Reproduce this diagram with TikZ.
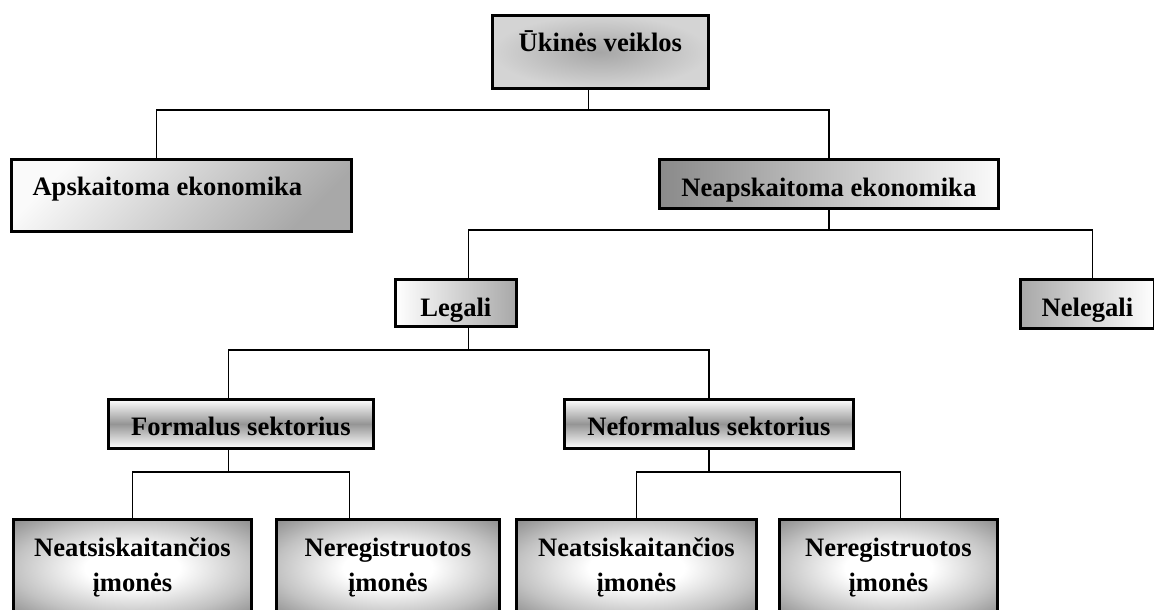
\documentclass[tikz,border=0pt]{standalone}
\usepackage{fontspec}
\setmainfont{Liberation Serif}
\usetikzlibrary{calc}
\definecolor{gtopin}{HTML}{A6A6A6}
\definecolor{gtopout}{HTML}{D4D4D4}
\definecolor{gdark}{HTML}{8A8A8A}
\definecolor{gmid}{HTML}{A8A8A8}
\definecolor{gband}{HTML}{959595}
\definecolor{glight}{HTML}{FAFAFA}
\definecolor{gcorner}{HTML}{767676}
\definecolor{gedge}{HTML}{C2C2C2}
\pgfdeclareradialshading{cornerfade}{\pgfpoint{0bp}{0bp}}{%
  color(0bp)=(white); color(10bp)=(white); color(25bp)=(gedge); color(40bp)=(gcorner); color(50bp)=(gcorner)}
\begin{document}
\begin{tikzpicture}[x=1pt,y=-1pt,
  box/.style={draw=black, line width=2.8pt, inner sep=0pt, anchor=north west,
    font=\fontsize{26.6}{35}\selectfont\bfseries},
  conn/.style={draw=black, line width=1.7pt},
  txa/.style={text height=10pt, text depth=10pt},
  txb/.style={text height=25pt, text depth=0pt},
  txc/.style={text height=27pt, text depth=0pt},
  txd/.style={text height=23pt, text depth=0pt},
  hband/.style={top color=white, bottom color=white, middle color=gband},
  corner/.style={shading=cornerfade},
  bottombox/.style={box, align=center, minimum height=97pt, corner}]
\clip (0,0) rectangle (1154,610);
\fill[white] (0,0) rectangle (1154,610);

% boxes
\node[box, minimum width=216pt, minimum height=73pt, inner color=gtopin, outer color=gtopout, txa] (top) at (491,14) {Ūkinės veiklos};
\node[box, minimum width=340pt, minimum height=72pt, top color=glight, bottom color=gmid, shading angle=45, txa] (apsk) at (10,158) {Apskaitoma ekonomika\hspace*{28pt}};
\node[box, minimum width=339pt, minimum height=49pt, left color=gdark, right color=glight, txb] (neap) at (658,158) {Neapskaitoma ekonomika};
\node[box, minimum width=121pt, minimum height=47pt, left color=white, right color=gmid, txc] (leg) at (394,278) {Legali};
\node[box, minimum width=134pt, minimum height=49pt, left color=gmid, right color=white, txb] (neleg) at (1019,278) {Nelegali};
\node[box, minimum width=265pt, minimum height=49pt, hband, txd] (form) at (107,398) {Formalus sektorius};
\node[box, minimum width=289pt, minimum height=49pt, hband, txd] (neform) at (563,398) {Neformalus sektorius};
\node[bottombox, minimum width=238pt] (b1) at (12,518) {Neatsiskaitančios\\įmonės};
\node[bottombox, minimum width=223pt] (b2) at (275,518) {Neregistruotos\\įmonės};
\node[bottombox, minimum width=240pt] (b3) at (515,518) {Neatsiskaitančios\\įmonės};
\node[bottombox, minimum width=218pt] (b4) at (778,518) {Neregistruotos\\įmonės};

% attachment points
\coordinate (topS) at ([xshift=-12pt]top.south);
\coordinate (apskN) at ([xshift=-25pt]apsk.north);
\coordinate (neapN) at (neap.north);
\coordinate (neapS) at (neap.south);
\coordinate (legN) at ([xshift=12.5pt]leg.north);
\coordinate (legS) at ([xshift=12.5pt]leg.south);
\coordinate (nelegN) at ([xshift=5pt]neleg.north);
\coordinate (formN) at ([xshift=-12.5pt]form.north);
\coordinate (formS) at ([xshift=-12.5pt]form.south);
\coordinate (neformN) at (neform.north);
\coordinate (neformS) at (neform.south);
\coordinate (b1N) at (b1.north);
\coordinate (b2N) at ([xshift=-38.5pt]b2.north);
\coordinate (b3N) at (b3.north);
\coordinate (b4N) at ([xshift=12pt]b4.north);

% bus levels
\coordinate (bus1) at (0,110);
\coordinate (bus2) at (0,230);
\coordinate (bus3) at (0,350);
\coordinate (bus4) at (0,472);

% connectors
\draw[conn] (topS) -- (topS |- bus1);
\draw[conn] (apskN) |- (topS |- bus1) -| (neapN);
\draw[conn] (neapS) -- (neapS |- bus2);
\draw[conn] (legN) |- (neapS |- bus2) -| (nelegN);
\draw[conn] (legS) -- (legS |- bus3);
\draw[conn] (formN) |- (legS |- bus3) -| (neformN);
\draw[conn] (formS) -- (formS |- bus4);
\draw[conn] (b1N) |- (formS |- bus4) -| (b2N);
\draw[conn] (neformS) -- (neformS |- bus4);
\draw[conn] (b3N) |- (neformS |- bus4) -| (b4N);
\end{tikzpicture}
\end{document}
